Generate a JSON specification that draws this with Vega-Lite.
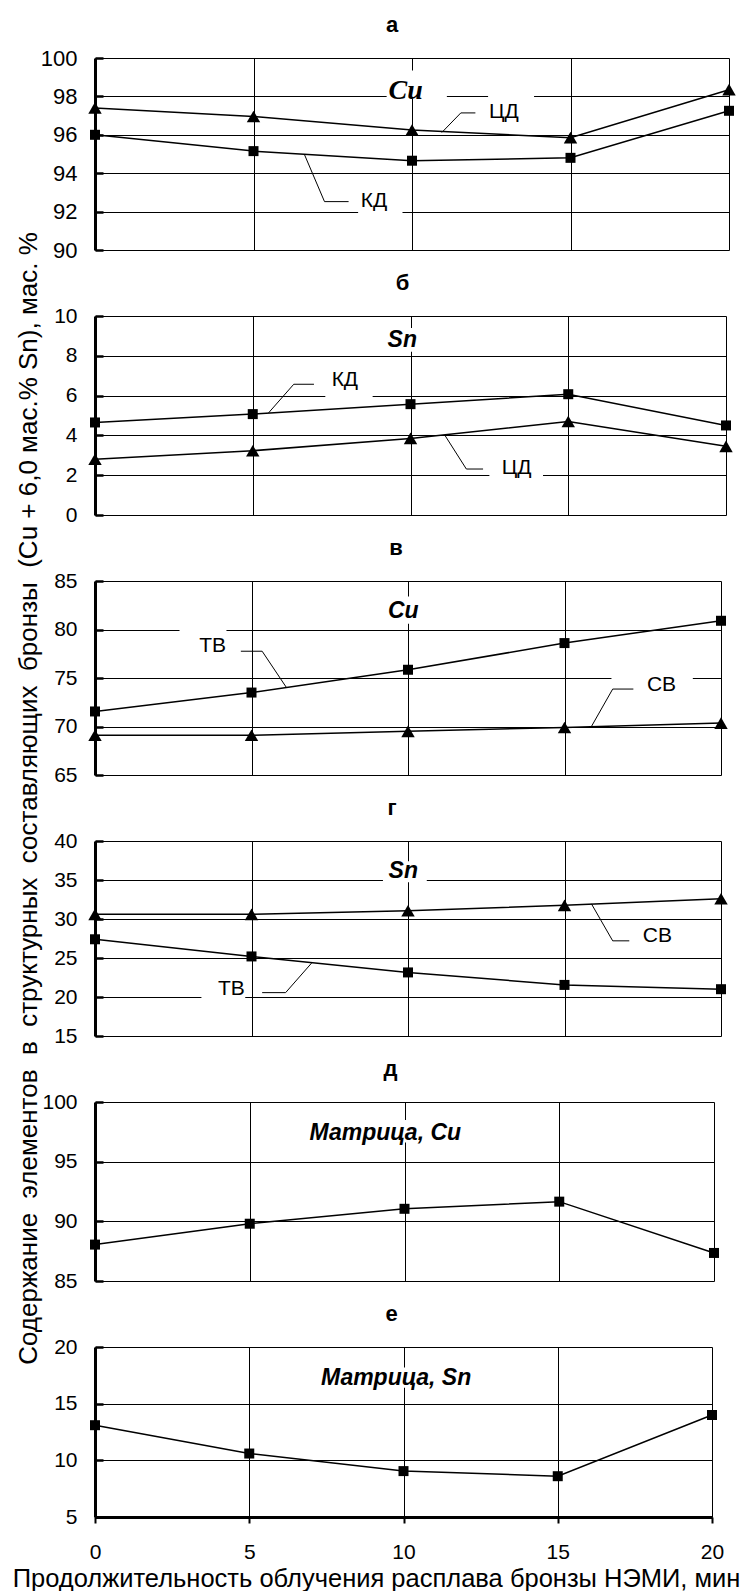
{
 "$schema": "https://vega.github.io/schema/vega-lite/v6.json",
 "background": "white",
 "padding": {"left": 12, "top": 14, "right": 4, "bottom": 4},
 "bounds": "flush",
 "spacing": 66,
 "resolve": {"scale": {"x": "independent", "y": "independent"}},
 "datasets": {
  "pts": [
   {"p":"a","s":"ЦД","x":0,"y":97.4},{"p":"a","s":"ЦД","x":5,"y":96.95},{"p":"a","s":"ЦД","x":10,"y":96.25},{"p":"a","s":"ЦД","x":15,"y":95.85},{"p":"a","s":"ЦД","x":20,"y":98.35},
   {"p":"a","s":"КД","x":0,"y":96.0},{"p":"a","s":"КД","x":5,"y":95.15},{"p":"a","s":"КД","x":10,"y":94.65},{"p":"a","s":"КД","x":15,"y":94.8},{"p":"a","s":"КД","x":20,"y":97.25},
   {"p":"b","s":"КД","x":0,"y":4.65},{"p":"b","s":"КД","x":5,"y":5.07},{"p":"b","s":"КД","x":10,"y":5.57},{"p":"b","s":"КД","x":15,"y":6.07},{"p":"b","s":"КД","x":20,"y":4.5},
   {"p":"b","s":"ЦД","x":0,"y":2.8},{"p":"b","s":"ЦД","x":5,"y":3.23},{"p":"b","s":"ЦД","x":10,"y":3.85},{"p":"b","s":"ЦД","x":15,"y":4.7},{"p":"b","s":"ЦД","x":20,"y":3.45},
   {"p":"v","s":"ТВ","x":0,"y":71.55},{"p":"v","s":"ТВ","x":5,"y":73.5},{"p":"v","s":"ТВ","x":10,"y":75.85},{"p":"v","s":"ТВ","x":15,"y":78.6},{"p":"v","s":"ТВ","x":20,"y":80.9},
   {"p":"v","s":"СВ","x":0,"y":69.1},{"p":"v","s":"СВ","x":5,"y":69.1},{"p":"v","s":"СВ","x":10,"y":69.5},{"p":"v","s":"СВ","x":15,"y":69.9},{"p":"v","s":"СВ","x":20,"y":70.35},
   {"p":"g","s":"СВ","x":0,"y":30.6},{"p":"g","s":"СВ","x":5,"y":30.6},{"p":"g","s":"СВ","x":10,"y":31.05},{"p":"g","s":"СВ","x":15,"y":31.75},{"p":"g","s":"СВ","x":20,"y":32.6},
   {"p":"g","s":"ТВ","x":0,"y":27.4},{"p":"g","s":"ТВ","x":5,"y":25.2},{"p":"g","s":"ТВ","x":10,"y":23.15},{"p":"g","s":"ТВ","x":15,"y":21.55},{"p":"g","s":"ТВ","x":20,"y":21.0},
   {"p":"d","s":"Матрица","x":0,"y":88.05},{"p":"d","s":"Матрица","x":5,"y":89.8},{"p":"d","s":"Матрица","x":10,"y":91.05},{"p":"d","s":"Матрица","x":15,"y":91.65},{"p":"d","s":"Матрица","x":20,"y":87.35},
   {"p":"e","s":"Матрица","x":0,"y":13.1},{"p":"e","s":"Матрица","x":5,"y":10.6},{"p":"e","s":"Матрица","x":10,"y":9.05},{"p":"e","s":"Матрица","x":15,"y":8.6},{"p":"e","s":"Матрица","x":20,"y":14.0}
  ],
  "ann": [
   {"p":"a","text":"КД","x":8.8,"y":92.55},{"p":"a","text":"ЦД","x":12.9,"y":97.2},
   {"p":"b","text":"КД","x":7.92,"y":6.8},{"p":"b","text":"ЦД","x":13.36,"y":2.35},
   {"p":"v","text":"ТВ","x":3.76,"y":78.3},{"p":"v","text":"СВ","x":18.1,"y":74.3},
   {"p":"g","text":"СВ","x":17.97,"y":27.85},{"p":"g","text":"ТВ","x":4.36,"y":21.0}
  ],
  "ins": [
   {"p":"a","text":"Cu","x":9.8,"y":98.3},
   {"p":"b","text":"Sn","x":9.74,"y":8.78},
   {"p":"v","text":"Cu","x":9.85,"y":81.9},
   {"p":"g","text":"Sn","x":9.85,"y":36.1},
   {"p":"d","text":"Матрица, Cu","x":9.38,"y":97.44},
   {"p":"e","text":"Матрица, Sn","x":9.76,"y":17.28}
  ],
  "lead": [
   {"p":"a","id":"a1","k":1,"x":6.6,"y":95.0},{"p":"a","id":"a1","k":2,"x":7.24,"y":92.52},{"p":"a","id":"a1","k":3,"x":8.0,"y":92.52},
   {"p":"a","id":"a2","k":1,"x":10.94,"y":96.12},{"p":"a","id":"a2","k":2,"x":11.54,"y":97.14},{"p":"a","id":"a2","k":3,"x":12.0,"y":97.14},
   {"p":"b","id":"b1","k":1,"x":5.5,"y":5.13},{"p":"b","id":"b1","k":2,"x":6.3,"y":6.57},{"p":"b","id":"b1","k":3,"x":6.94,"y":6.57},
   {"p":"b","id":"b2","k":1,"x":11.1,"y":3.98},{"p":"b","id":"b2","k":2,"x":11.77,"y":2.31},{"p":"b","id":"b2","k":3,"x":12.3,"y":2.31},
   {"p":"v","id":"v1","k":1,"x":6.12,"y":74.0},{"p":"v","id":"v1","k":2,"x":5.34,"y":77.76},{"p":"v","id":"v1","k":3,"x":4.66,"y":77.76},
   {"p":"v","id":"v2","k":1,"x":15.86,"y":70.0},{"p":"v","id":"v2","k":2,"x":16.54,"y":73.86},{"p":"v","id":"v2","k":3,"x":17.2,"y":73.86},
   {"p":"g","id":"g1","k":1,"x":15.86,"y":31.95},{"p":"g","id":"g1","k":2,"x":16.54,"y":27.2},{"p":"g","id":"g1","k":3,"x":17.07,"y":27.2},
   {"p":"g","id":"g2","k":1,"x":6.92,"y":24.35},{"p":"g","id":"g2","k":2,"x":6.09,"y":20.56},{"p":"g","id":"g2","k":3,"x":5.34,"y":20.56}
  ],
  "box": [
   {"p":"a","x":9.2,"x2":11.1,"y":97.9,"y2":99.35},{"p":"a","x":8.3,"x2":9.7,"y":91.85,"y2":93.3},{"p":"a","x":12.4,"x2":13.85,"y":96.5,"y2":98.1},
   {"p":"b","x":9.2,"x2":10.4,"y":8.2,"y2":9.4},{"p":"b","x":7.3,"x2":8.8,"y":5.9,"y2":7.6},{"p":"b","x":12.5,"x2":14.2,"y":1.75,"y2":3.0},
   {"p":"v","x":9.3,"x2":10.5,"y":80.6,"y2":83.4},{"p":"v","x":2.7,"x2":4.2,"y":77.0,"y2":80.1},{"p":"v","x":16.5,"x2":19.1,"y":73.2,"y2":75.3},
   {"p":"g","x":9.2,"x2":10.6,"y":34.7,"y2":37.4},{"p":"g","x":3.4,"x2":4.8,"y":19.8,"y2":22.2},
   {"p":"d","x":6.6,"x2":12.2,"y":96.6,"y2":98.5},
   {"p":"e","x":6.8,"x2":12.7,"y":16.4,"y2":18.2}
  ]
 },
 "vconcat": [
  {
   "width": 634, "height": 192,
   "title": {"text": "а", "dx": -20},
   "encoding": {
    "x": {"field": "x", "type": "quantitative", "scale": {"domain": [0, 20], "nice": false, "zero": false}, "axis": {"values": [0, 5, 10, 15, 20], "labels": false, "ticks": false, "domain": false, "title": null}},
    "y": {"field": "y", "type": "quantitative", "scale": {"domain": [90, 100], "nice": false, "zero": false}, "axis": {"values": [90, 92, 94, 96, 98, 100], "labelFontSize": 22, "title": "Содержание \u00a0элементов \u00a0в \u00a0структурных \u00a0составляющих \u00a0бронзы \u00a0(Cu + 6,0 мас.% Sn), мас. %", "titleFont": "Liberation Sans", "titleFontSize": 26, "titleFontWeight": "normal", "titleAngle": 270, "titleBaseline": "alphabetic", "titleAlign": "center", "titleX": -59, "titleY": 740}}
   },
   "layer": [
    {"data": {"name": "box"}, "transform": [{"filter": "datum.p==='a'"}], "mark": {"type": "rect", "fill": "white", "strokeWidth": 0}, "encoding": {"x2": {"field": "x2"}, "y2": {"field": "y2"}}},
    {"data": {"name": "lead"}, "transform": [{"filter": "datum.p==='a'"}], "mark": {"type": "line", "color": "black", "strokeWidth": 1}, "encoding": {"detail": {"field": "id"}, "order": {"field": "k"}}},
    {"data": {"name": "pts"}, "transform": [{"filter": "datum.p==='a'"}], "mark": {"type": "line", "color": "black", "strokeWidth": 1.5}, "encoding": {"detail": {"field": "s"}}},
    {"data": {"name": "pts"}, "transform": [{"filter": "datum.p==='a' && (datum.s==='ЦД' || datum.s==='СВ')"}], "mark": {"type": "point", "shape": "triangle-up", "size": 180, "filled": true, "color": "black", "opacity": 1}},
    {"data": {"name": "pts"}, "transform": [{"filter": "datum.p==='a' && !(datum.s==='ЦД' || datum.s==='СВ')"}], "mark": {"type": "point", "shape": "square", "size": 100, "filled": true, "color": "black", "opacity": 1}},
    {"data": {"name": "ann"}, "transform": [{"filter": "datum.p==='a'"}], "mark": {"type": "text", "font": "Liberation Sans", "fontSize": 21, "fill": "black", "baseline": "middle", "align": "center"}, "encoding": {"text": {"field": "text"}}},
    {"data": {"name": "ins"}, "transform": [{"filter": "datum.p==='a'"}], "mark": {"type": "text", "font": "Liberation Serif", "fontSize": 28, "fontWeight": "bold", "fontStyle": "italic", "fill": "black", "baseline": "middle", "align": "center"}, "encoding": {"text": {"field": "text"}}}
   ]
  },
  {
   "width": 631, "height": 199,
   "title": {"text": "б", "dx": -8},
   "encoding": {
    "x": {"field": "x", "type": "quantitative", "scale": {"domain": [0, 20], "nice": false, "zero": false}, "axis": {"values": [0, 5, 10, 15, 20], "labels": false, "ticks": false, "domain": false, "title": null}},
    "y": {"field": "y", "type": "quantitative", "scale": {"domain": [0, 10], "nice": false, "zero": false}, "axis": {"values": [0, 2, 4, 6, 8, 10], "title": null}}
   },
   "layer": [
    {"data": {"name": "box"}, "transform": [{"filter": "datum.p==='b'"}], "mark": {"type": "rect", "fill": "white", "strokeWidth": 0}, "encoding": {"x2": {"field": "x2"}, "y2": {"field": "y2"}}},
    {"data": {"name": "lead"}, "transform": [{"filter": "datum.p==='b'"}], "mark": {"type": "line", "color": "black", "strokeWidth": 1}, "encoding": {"detail": {"field": "id"}, "order": {"field": "k"}}},
    {"data": {"name": "pts"}, "transform": [{"filter": "datum.p==='b'"}], "mark": {"type": "line", "color": "black", "strokeWidth": 1.5}, "encoding": {"detail": {"field": "s"}}},
    {"data": {"name": "pts"}, "transform": [{"filter": "datum.p==='b' && (datum.s==='ЦД' || datum.s==='СВ')"}], "mark": {"type": "point", "shape": "triangle-up", "size": 180, "filled": true, "color": "black", "opacity": 1}},
    {"data": {"name": "pts"}, "transform": [{"filter": "datum.p==='b' && !(datum.s==='ЦД' || datum.s==='СВ')"}], "mark": {"type": "point", "shape": "square", "size": 100, "filled": true, "color": "black", "opacity": 1}},
    {"data": {"name": "ann"}, "transform": [{"filter": "datum.p==='b'"}], "mark": {"type": "text", "font": "Liberation Sans", "fontSize": 21, "fill": "black", "baseline": "middle", "align": "center"}, "encoding": {"text": {"field": "text"}}},
    {"data": {"name": "ins"}, "transform": [{"filter": "datum.p==='b'"}], "mark": {"type": "text", "font": "Liberation Sans", "fontSize": 23, "fontWeight": "bold", "fontStyle": "italic", "fill": "black", "baseline": "middle", "align": "center"}, "encoding": {"text": {"field": "text"}}}
   ]
  },
  {
   "width": 626, "height": 194,
   "title": {"text": "в", "dx": -12},
   "encoding": {
    "x": {"field": "x", "type": "quantitative", "scale": {"domain": [0, 20], "nice": false, "zero": false}, "axis": {"values": [0, 5, 10, 15, 20], "labels": false, "ticks": false, "domain": false, "title": null}},
    "y": {"field": "y", "type": "quantitative", "scale": {"domain": [65, 85], "nice": false, "zero": false}, "axis": {"values": [65, 70, 75, 80, 85], "title": null}}
   },
   "layer": [
    {"data": {"name": "box"}, "transform": [{"filter": "datum.p==='v'"}], "mark": {"type": "rect", "fill": "white", "strokeWidth": 0}, "encoding": {"x2": {"field": "x2"}, "y2": {"field": "y2"}}},
    {"data": {"name": "lead"}, "transform": [{"filter": "datum.p==='v'"}], "mark": {"type": "line", "color": "black", "strokeWidth": 1}, "encoding": {"detail": {"field": "id"}, "order": {"field": "k"}}},
    {"data": {"name": "pts"}, "transform": [{"filter": "datum.p==='v'"}], "mark": {"type": "line", "color": "black", "strokeWidth": 1.5}, "encoding": {"detail": {"field": "s"}}},
    {"data": {"name": "pts"}, "transform": [{"filter": "datum.p==='v' && (datum.s==='ЦД' || datum.s==='СВ')"}], "mark": {"type": "point", "shape": "triangle-up", "size": 180, "filled": true, "color": "black", "opacity": 1}},
    {"data": {"name": "pts"}, "transform": [{"filter": "datum.p==='v' && !(datum.s==='ЦД' || datum.s==='СВ')"}], "mark": {"type": "point", "shape": "square", "size": 100, "filled": true, "color": "black", "opacity": 1}},
    {"data": {"name": "ann"}, "transform": [{"filter": "datum.p==='v'"}], "mark": {"type": "text", "font": "Liberation Sans", "fontSize": 21, "fill": "black", "baseline": "middle", "align": "center"}, "encoding": {"text": {"field": "text"}}},
    {"data": {"name": "ins"}, "transform": [{"filter": "datum.p==='v'"}], "mark": {"type": "text", "font": "Liberation Sans", "fontSize": 23, "fontWeight": "bold", "fontStyle": "italic", "fill": "black", "baseline": "middle", "align": "center"}, "encoding": {"text": {"field": "text"}}}
   ]
  },
  {
   "width": 626, "height": 195,
   "title": {"text": "г", "dx": -16},
   "encoding": {
    "x": {"field": "x", "type": "quantitative", "scale": {"domain": [0, 20], "nice": false, "zero": false}, "axis": {"values": [0, 5, 10, 15, 20], "labels": false, "ticks": false, "domain": false, "title": null}},
    "y": {"field": "y", "type": "quantitative", "scale": {"domain": [15, 40], "nice": false, "zero": false}, "axis": {"values": [15, 20, 25, 30, 35, 40], "title": null}}
   },
   "layer": [
    {"data": {"name": "box"}, "transform": [{"filter": "datum.p==='g'"}], "mark": {"type": "rect", "fill": "white", "strokeWidth": 0}, "encoding": {"x2": {"field": "x2"}, "y2": {"field": "y2"}}},
    {"data": {"name": "lead"}, "transform": [{"filter": "datum.p==='g'"}], "mark": {"type": "line", "color": "black", "strokeWidth": 1}, "encoding": {"detail": {"field": "id"}, "order": {"field": "k"}}},
    {"data": {"name": "pts"}, "transform": [{"filter": "datum.p==='g'"}], "mark": {"type": "line", "color": "black", "strokeWidth": 1.5}, "encoding": {"detail": {"field": "s"}}},
    {"data": {"name": "pts"}, "transform": [{"filter": "datum.p==='g' && (datum.s==='ЦД' || datum.s==='СВ')"}], "mark": {"type": "point", "shape": "triangle-up", "size": 180, "filled": true, "color": "black", "opacity": 1}},
    {"data": {"name": "pts"}, "transform": [{"filter": "datum.p==='g' && !(datum.s==='ЦД' || datum.s==='СВ')"}], "mark": {"type": "point", "shape": "square", "size": 100, "filled": true, "color": "black", "opacity": 1}},
    {"data": {"name": "ann"}, "transform": [{"filter": "datum.p==='g'"}], "mark": {"type": "text", "font": "Liberation Sans", "fontSize": 21, "fill": "black", "baseline": "middle", "align": "center"}, "encoding": {"text": {"field": "text"}}},
    {"data": {"name": "ins"}, "transform": [{"filter": "datum.p==='g'"}], "mark": {"type": "text", "font": "Liberation Sans", "fontSize": 23, "fontWeight": "bold", "fontStyle": "italic", "fill": "black", "baseline": "middle", "align": "center"}, "encoding": {"text": {"field": "text"}}}
   ]
  },
  {
   "width": 619, "height": 179,
   "title": {"text": "д", "dx": -14},
   "encoding": {
    "x": {"field": "x", "type": "quantitative", "scale": {"domain": [0, 20], "nice": false, "zero": false}, "axis": {"values": [0, 5, 10, 15, 20], "labels": false, "ticks": false, "domain": false, "title": null}},
    "y": {"field": "y", "type": "quantitative", "scale": {"domain": [85, 100], "nice": false, "zero": false}, "axis": {"values": [85, 90, 95, 100], "title": null}}
   },
   "layer": [
    {"data": {"name": "box"}, "transform": [{"filter": "datum.p==='d'"}], "mark": {"type": "rect", "fill": "white", "strokeWidth": 0}, "encoding": {"x2": {"field": "x2"}, "y2": {"field": "y2"}}},
    {"data": {"name": "pts"}, "transform": [{"filter": "datum.p==='d'"}], "mark": {"type": "line", "color": "black", "strokeWidth": 1.5}, "encoding": {"detail": {"field": "s"}}},
    {"data": {"name": "pts"}, "transform": [{"filter": "datum.p==='d'"}], "mark": {"type": "point", "shape": "square", "size": 100, "filled": true, "color": "black", "opacity": 1}},
    {"data": {"name": "ins"}, "transform": [{"filter": "datum.p==='d'"}], "mark": {"type": "text", "font": "Liberation Sans", "fontSize": 23, "fontWeight": "bold", "fontStyle": "italic", "fill": "black", "baseline": "middle", "align": "center"}, "encoding": {"text": {"field": "text"}}}
   ]
  },
  {
   "width": 617, "height": 170,
   "title": {"text": "е", "dx": -12},
   "encoding": {
    "x": {"field": "x", "type": "quantitative", "scale": {"domain": [0, 20], "nice": false, "zero": false}, "axis": {"values": [0, 5, 10, 15, 20], "labelFlush": false, "domainWidth": 3, "tickSize": 6, "tickWidth": 2, "labelPadding": 18, "title": "Продолжительность облучения расплава бронзы НЭМИ, мин", "titleFont": "Liberation Sans", "titleFontSize": 25.5, "titleFontWeight": "normal", "titlePadding": 4, "titleX": 281}},
    "y": {"field": "y", "type": "quantitative", "scale": {"domain": [5, 20], "nice": false, "zero": false}, "axis": {"values": [5, 10, 15, 20], "title": null}}
   },
   "layer": [
    {"data": {"name": "box"}, "transform": [{"filter": "datum.p==='e'"}], "mark": {"type": "rect", "fill": "white", "strokeWidth": 0}, "encoding": {"x2": {"field": "x2"}, "y2": {"field": "y2"}}},
    {"data": {"name": "pts"}, "transform": [{"filter": "datum.p==='e'"}], "mark": {"type": "line", "color": "black", "strokeWidth": 1.5}, "encoding": {"detail": {"field": "s"}}},
    {"data": {"name": "pts"}, "transform": [{"filter": "datum.p==='e'"}], "mark": {"type": "point", "shape": "square", "size": 100, "filled": true, "color": "black", "opacity": 1}},
    {"data": {"name": "ins"}, "transform": [{"filter": "datum.p==='e'"}], "mark": {"type": "text", "font": "Liberation Sans", "fontSize": 23, "fontWeight": "bold", "fontStyle": "italic", "fill": "black", "baseline": "middle", "align": "center"}, "encoding": {"text": {"field": "text"}}}
   ]
  }
 ],
 "config": {
  "view": {"stroke": null},
  "font": "Liberation Sans",
  "axis": {"gridColor": "black", "gridOpacity": 1, "gridWidth": 1, "domainColor": "black", "tickColor": "black", "labelColor": "black", "titleColor": "black", "labelFont": "Liberation Sans", "labelFontSize": 21, "labelOverlap": false},
  "axisY": {"domainWidth": 3, "tickWidth": 2.5, "tickSize": -8, "labelPadding": 26},
  "title": {"fontSize": 22, "fontWeight": "bold", "font": "Liberation Sans", "color": "black", "anchor": "middle", "frame": "group", "baseline": "alphabetic", "offset": 10}
 }
}
